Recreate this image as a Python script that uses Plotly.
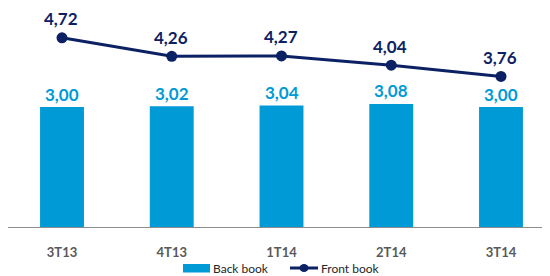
import plotly.graph_objects as go

categories = ["3T13", "4T13", "1T14", "2T14", "3T14"]
back_book = [3.00, 3.02, 3.04, 3.08, 3.00]
front_book = [4.72, 4.26, 4.27, 4.04, 3.76]
series_names = ["Back book", "Front book"]

BAR_COLOR = "#009ad6"
LINE_COLOR = "#0b2164"
FONT = "Lato"

# page has an 8px body margin; figure is sized to fit the window
OFF = 8
W, H = 550 - OFF, 276 - OFF
plot_h = 228 - OFF
x_idx = list(range(len(categories)))

fig = go.Figure()
fig.add_trace(go.Bar(
    x=x_idx, y=back_book, name=series_names[0],
    marker=dict(color=BAR_COLOR, line=dict(width=0)),
    width=0.4, showlegend=False,
))
fig.add_trace(go.Scatter(
    x=x_idx, y=front_book, name=series_names[1], mode="lines+markers",
    line=dict(color=LINE_COLOR, width=3),
    marker=dict(color=LINE_COLOR, size=11),
    showlegend=False,
))

def fmt(v):
    return f"{v:.2f}".replace(".", ",")

annotations = []
for i, v in enumerate(back_book):
    annotations.append(dict(x=i, y=v, text=f"<b>{fmt(v)}</b>", showarrow=False,
                            yshift=13, font=dict(family=FONT, size=17, color=BAR_COLOR),
                            xref="x", yref="y"))
for i, v in enumerate(front_book):
    annotations.append(dict(x=i, y=v, text=f"<b>{fmt(v)}</b>", showarrow=False,
                            yshift=19, xshift=-1, font=dict(family=FONT, size=17, color=LINE_COLOR),
                            xref="x", yref="y"))

# custom legend (page pixel -> paper)
def py(p):
    return (plot_h - (p - OFF)) / plot_h
def px(p):
    return (p - OFF) / W

x0r = -54 / 109.75
x1r = x0r + W / 109.75

shapes = [
    dict(type="line", xref="paper", yref="y", x0=0, x1=1, y0=0, y1=0,
         line=dict(color="#8c8c8c", width=2)),
    dict(type="rect", xref="paper", yref="paper", x0=px(183), x1=px(210),
         y0=py(272.5), y1=py(264), fillcolor=BAR_COLOR, line=dict(width=0)),
    dict(type="line", xref="paper", yref="paper", x0=px(290), x1=px(318),
         y0=py(268), y1=py(268), line=dict(color=LINE_COLOR, width=3)),
    dict(type="circle", xref="paper", yref="paper", x0=px(299.5), x1=px(308.5),
         y0=py(272), y1=py(264), fillcolor=LINE_COLOR, line=dict(width=0)),
]
annotations.append(dict(xref="paper", yref="paper", x=px(211), y=py(268),
                        xanchor="left", yanchor="middle", text=series_names[0],
                        showarrow=False, font=dict(family=FONT, size=12, color="#262626")))
annotations.append(dict(xref="paper", yref="paper", x=px(319), y=py(268),
                        xanchor="left", yanchor="middle", text=series_names[1],
                        showarrow=False, font=dict(family=FONT, size=12, color="#262626")))

fig.update_layout(
    width=W, height=H,
    margin=dict(l=0, r=0, t=0, b=H - plot_h),
    paper_bgcolor="white", plot_bgcolor="white",
    xaxis=dict(range=[x0r, x1r], tickmode="array", tickvals=x_idx,
               ticktext=[f"<b>{c}</b>" for c in categories],
               showgrid=False, zeroline=False, showline=False,
               ticks="outside", ticklen=12, tickcolor="rgba(0,0,0,0)",
               tickfont=dict(family=FONT, size=13, color="#595959"), fixedrange=True),
    yaxis=dict(range=[0, plot_h / 40.3], visible=False, fixedrange=True),
    annotations=annotations,
    shapes=shapes,
    showlegend=False,
)

fig.write_html("out.html")
